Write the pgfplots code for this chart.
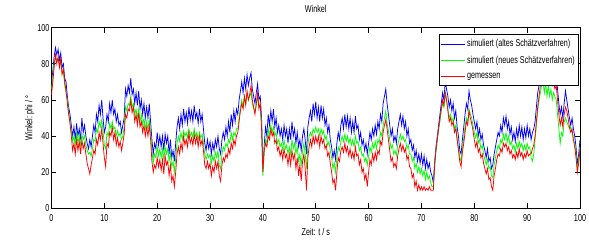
\documentclass[border=0pt]{standalone}
\usepackage{fontspec}
\setmainfont{Liberation Sans}[FakeStretch=0.72]
\usepackage{pgfplots}
\usepackage{pgfplotstable}
\pgfplotsset{compat=1.18}
\definecolor{mblue}{rgb}{0,0,1}
\definecolor{mgreen}{rgb}{0,1,0}
\definecolor{mred}{rgb}{1,0,0}
\pgfplotstableread{
t b g r
0 70 66 63
0.25 76 72 70
0.5 84 80 78
0.75 89 84 85
1 85 82 80
1.25 88 83 84
1.5 82 79 78
1.75 86 81 83
2 78 75 74
2.25 80 76 77
2.5 72 68 70
2.75 70 64 65
3 62 60 58
3.25 56 53 52
3.5 52 48 47
3.75 46 43 40
4 40 37 32
4.25 45 40 36
4.5 38 35 30
4.75 47 42 38
5 40 36 32
5.25 44 40 37
5.5 38 35 30
5.75 50 41 38
6 42 38 33
6.25 46 40 36
6.5 40 35 30
6.75 36 32 25
7 33 30 22
7.25 38 31 19
7.5 34 29 24
7.75 40 33 28
8 46 38 32
8.25 42 37 30
8.5 52 44 38
8.75 48 42 35
9 57 48 42
9.25 52 45 38
9.5 60 49 44
9.75 50 43 36
10 42 35 28
10.25 45 33 23
10.5 52 42 36
10.75 48 40 34
11 58 47 42
11.25 53 44 40
11.5 60 48 45
11.75 52 44 38
12 55 45 42
12.25 48 40 35
12.5 52 43 39
12.75 46 40 34
13 48 42 37
13.25 42 38 32
13.5 46 40 36
13.75 50 45 41
14 66 56 52
14.25 62 54 50
14.5 68 58 55
14.75 64 57 54
15 72 62 60
15.25 63 56 53
15.5 66 58 56
15.75 58 52 48
16 64 55 52
16.25 57 50 46
16.5 65 55 53
16.75 55 48 45
17 60 52 48
17.25 52 46 42
17.5 58 50 46
17.75 50 44 40
18 56 48 45
18.25 50 44 40
18.5 58 49 46
18.75 48 42 38
19 38 32 26
19.25 30 25 20
19.5 36 30 24
19.75 33 28 22
20 42 34 28
20.25 35 29 23
20.5 40 33 27
20.75 34 28 21
21 40 33 27
21.25 32 27 19
21.5 41 34 29
21.75 36 30 24
22 40 33 26
22.25 30 26 18
22.5 38 31 24
22.75 28 23 15
23 32 26 18
23.25 26 20 12
23.5 36 28 20
23.75 45 36 30
24 50 40 34
24.25 44 37 30
24.5 52 42 36
24.75 46 38 32
25 55 43 40
25.25 48 40 35
25.5 53 42 38
25.75 47 39 34
26 56 44 42
26.25 49 40 36
26.5 54 42 39
26.75 48 39 35
27 57 44 41
27.25 50 40 36
27.5 53 42 40
27.75 47 38 34
28 55 42 40
28.25 48 39 35
28.5 52 41 38
28.75 44 36 32
29 36 30 24
29.25 32 27 22
29.5 38 30 26
29.75 33 28 22
30 37 30 25
30.25 30 25 18
30.5 36 29 23
30.75 32 26 20
31 38 31 26
31.25 34 28 22
31.5 40 32 26
31.75 33 24 18
32 30 22 15
32.25 38 30 24
32.5 42 34 28
32.75 38 32 26
33 45 36 30
33.25 40 34 28
33.5 48 38 33
33.75 42 36 30
34 52 42 36
34.25 46 38 33
34.5 54 42 38
34.75 48 40 35
35 55 44 40
35.25 52 44 42
35.5 60 50 48
35.75 65 56 54
36 70 60 58
36.25 64 56 55
36.5 72 62 62
36.75 66 58 57
37 74 64 65
37.25 68 60 60
37.5 72 62 63
37.75 75 64 68
38 66 58 60
38.25 62 55 56
38.5 58 54 52
38.75 64 57 58
39 69 62 64
39.25 60 56 55
39.5 62 58 58
39.75 50 46 44
40 22 18 20
40.25 35 33 32
40.5 45 38 36
40.75 40 36 34
41 52 44 40
41.25 46 40 38
41.5 54 46 44
41.75 48 42 40
42 55 45 42
42.25 45 40 36
42.5 50 42 38
42.75 42 36 32
43 46 38 34
43.25 40 34 29
43.5 44 36 32
43.75 38 32 27
44 46 38 33
44.25 40 33 28
44.5 44 35 30
44.75 36 30 24
45 44 34 30
45.25 38 30 24
45.5 48 38 32
45.75 40 33 27
46 44 36 30
46.25 36 30 22
46.5 42 34 28
46.75 34 26 18
47 38 30 24
47.25 32 24 15
47.5 40 32 26
47.75 44 36 30
48 38 30 22
48.25 30 22 10
48.5 45 35 28
48.75 50 40 34
49 54 42 38
49.25 48 40 34
49.5 58 44 40
49.75 52 42 36
50 59 45 40
50.25 50 42 36
50.5 56 44 40
50.75 48 40 34
51 57 44 40
51.25 50 41 36
51.5 55 43 38
51.75 46 38 33
52 50 40 35
52.25 42 35 29
52.5 46 37 31
52.75 38 32 25
53 34 28 20
53.25 28 22 14
53.5 32 25 16
53.75 27 20 10
54 36 28 20
54.25 42 34 28
54.5 38 32 26
54.75 46 37 32
55 50 40 34
55.25 44 37 31
55.5 52 41 36
55.75 45 37 31
56 51 40 34
56.25 44 36 29
56.5 50 39 33
56.75 42 35 28
57 48 38 31
57.25 42 34 27
57.5 51 40 34
57.75 44 36 29
58 46 37 30
58.25 38 32 24
58.5 42 34 27
58.75 35 29 20
59 38 30 22
59.25 32 26 16
59.5 36 28 19
59.75 30 24 12
60 36 29 20
60.25 42 34 27
60.5 38 31 24
60.75 44 36 30
61 40 33 26
61.25 46 37 31
61.5 41 33 27
61.75 48 38 32
62 44 36 30
62.25 52 42 37
62.5 48 40 35
62.75 58 46 42
63 62 50 46
63.25 66 54 49
63.5 58 47 44
63.75 52 43 38
64 46 38 32
64.25 40 33 26
64.5 44 35 28
64.75 37 30 23
65 40 32 25
65.25 36 29 22
65.5 44 35 29
65.75 48 38 33
66 52 41 36
66.25 46 38 32
66.5 51 40 35
66.75 44 37 31
67 48 38 33
67.25 40 33 27
67.5 44 35 29
67.75 36 30 23
68 38 30 22
68.25 32 26 17
68.5 35 28 19
68.75 28 22 12
69 32 25 15
69.25 26 20 10
69.5 30 23 13
69.75 25 19 10
70 30 22 12
70.25 24 18 10
70.5 29 21 12
70.75 22 16 10
71 27 20 11
71.25 22 16 10
71.5 25 18 12
71.75 20 14 10
72 18 12 10
72.25 14 12 10
72.5 26 24 24
72.75 34 32 32
73 40 38 38
73.25 46 44 44
73.5 52 48 50
73.75 58 54 55
74 64 58 60
74.25 60 56 57
74.5 70 64 64
74.75 66 60 60
75 62 55 54
75.25 56 50 48
75.5 60 52 50
75.75 54 48 46
76 58 50 48
76.25 50 44 42
76.5 54 46 44
76.75 45 38 38
77 40 34 32
77.25 32 28 26
77.5 30 26 23
77.75 38 33 31
78 45 39 36
78.25 52 45 42
78.5 58 50 48
78.75 55 48 46
79 65 55 54
79.25 60 52 50
79.5 57 50 47
79.75 52 46 43
80 48 42 38
80.25 44 39 34
80.5 48 42 37
80.75 40 36 31
81 44 38 33
81.25 38 33 28
81.5 41 35 30
81.75 35 30 25
82 32 27 22
82.25 28 24 19
82.5 33 27 22
82.75 26 22 16
83 28 23 17
83.25 22 18 12
83.5 24 17 10
83.75 30 24 18
84 34 28 22
84.25 38 32 27
84.5 42 35 30
84.75 40 33 29
85 46 38 33
85.25 42 36 31
85.5 50 41 36
85.75 46 38 34
86 51 42 36
86.25 44 37 32
86.5 48 40 34
86.75 41 35 30
87 45 37 32
87.25 38 33 28
87.5 42 35 30
87.75 37 31 27
88 44 36 31
88.25 39 33 28
88.5 46 37 33
88.75 40 34 29
89 45 36 31
89.25 38 32 27
89.5 44 35 30
89.75 39 32 28
90 46 36 32
90.25 40 33 29
90.5 44 34 30
90.75 38 28 30
91 42 26 33
91.25 44 30 35
91.5 48 38 40
91.75 56 46 48
92 64 54 56
92.25 68 60 62
92.5 74 64 68
92.75 78 68 72
93 80 70 74
93.25 76 64 72
93.5 82 70 76
93.75 78 62 73
94 80 68 74
94.25 76 62 71
94.5 78 66 72
94.75 72 60 68
95 75 64 70
95.25 70 62 66
95.5 74 60 68
95.75 66 52 60
96 58 44 52
96.25 52 36 46
96.5 56 42 50
96.75 50 40 45
97 58 48 52
97.25 65 50 56
97.5 60 48 54
97.75 55 46 50
98 50 44 45
98.25 46 45 42
98.5 50 42 44
98.75 44 38 38
99 40 36 34
99.25 34 30 28
99.5 24 22 20
99.75 30 26 25
100 38 34 33
}\datatable
\begin{document}
\fontsize{10bp}{12bp}\selectfont
\begin{tikzpicture}
\useasboundingbox (-51.5bp,-33.7bp) rectangle (537.5bp,208.3bp);
\begin{axis}[
  at={(0,0)}, anchor=south west,
  scale only axis,
  width=528.5bp, height=180.6bp,
  xmin=0, xmax=100, ymin=0, ymax=100,
  xtick={0,10,...,100}, ytick={0,20,...,100},
  tick align=inside,
  major tick length=5bp,
  axis line style={line width=0.7bp},
  every tick/.style={line width=0.7bp, black},
  /pgf/number format/assume math mode=true,
  tick label style={font=\fontsize{10bp}{12bp}\selectfont},
  xticklabel style={yshift=-2.5bp},
  yticklabel style={xshift=1.5bp},
  title={Winkel},
  title style={at={(axis description cs:0.5,1.07)}, anchor=center, font=\fontsize{10bp}{12bp}\selectfont},
  xlabel={Zeit: t / s},
  xlabel style={at={(axis description cs:0.5,-0.133)}, anchor=center, font=\fontsize{10bp}{12bp}\selectfont},
  ylabel={Winkel: phi / °},
  ylabel style={at={(axis description cs:-0.041,0.5)}, anchor=center, font=\fontsize{10bp}{12bp}\selectfont},
  legend cell align=left,
  legend style={at={(0.9962,0.965)}, anchor=north east,
    font=\fontsize{10bp}{12bp}\selectfont, inner xsep=1bp, inner ysep=3.5bp, row sep=4bp},
  legend image code/.code={\draw[#1] (0bp,0bp) -- (24bp,0bp);},
]
\addplot[mblue, line width=0.75bp] table[x=t,y=b] {\datatable};
\addlegendentry{simuliert (altes Schätzverfahren)}
\addplot[mgreen, line width=0.75bp] table[x=t,y=g] {\datatable};
\addlegendentry{simuliert (neues Schätzverfahren)}
\addplot[mred, line width=0.75bp] table[x=t,y=r] {\datatable};
\addlegendentry{gemessen}
\end{axis}
\end{tikzpicture}
\end{document}
